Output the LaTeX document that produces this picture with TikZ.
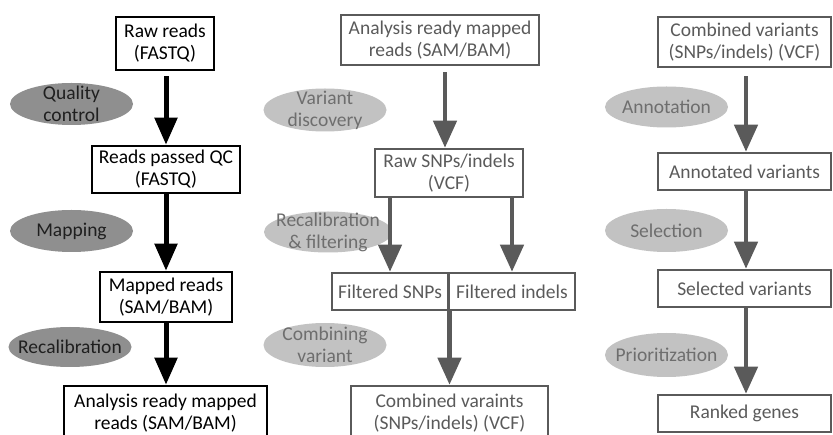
\documentclass[tikz,border=0pt]{standalone}
\usepackage{fontspec}
\setmainfont{Carlito}
\usetikzlibrary{shapes.geometric,arrows.meta}
\definecolor{dgray}{HTML}{5A5A5A}
\definecolor{egrayA}{HTML}{8F8F8F}
\definecolor{egrayB}{HTML}{C2C2C2}
\definecolor{etextB}{HTML}{6E6E6E}
\begin{document}
\begin{tikzpicture}[x=1pt,y=-1pt,
  every node/.style={font=\fontsize{19.5}{22}\selectfont, inner sep=0pt, align=center},
  boxA/.style={draw=black, line width=2.5pt, text=black, rectangle},
  boxB/.style={draw=dgray, line width=2.5pt, text=dgray, rectangle},
  ellA/.style={ellipse, fill=egrayA, minimum width=123pt, minimum height=42pt},
  ellB/.style={ellipse, fill=egrayB, minimum width=123pt, minimum height=43pt},
  tA/.style={text=black!88},
  tB/.style={text=etextB},
  arrA/.style={draw=black, line width=5pt, -{Triangle[length=27pt,width=22pt]}},
  arrB/.style={draw=dgray, line width=4.5pt, -{Triangle[length=27pt,width=23pt]}},
]
\useasboundingbox (0,0) rectangle (833,435);

% ---------- column 1 ----------
\node[boxA, minimum width=98pt, minimum height=53pt] (raw) at (165,43.5) {Raw reads\\(FASTQ)};
\node[boxA, minimum width=148pt, minimum height=47pt] (qc) at (166,169.5) {Reads passed QC\\(FASTQ)};
\node[boxA, minimum width=132pt, minimum height=50pt] (mapped) at (166,297) {Mapped reads\\(SAM/BAM)};
\node[boxA, minimum width=203pt, minimum height=54pt] (ready) at (165.5,413) {Analysis ready mapped\\reads (SAM/BAM)};

\node[ellA] (eqc) at (71.5,104) {};
\node[tA] at (eqc.center) {Quality\\control};
\node[ellA] (emap) at (71.5,231) {};
\node[tA] at (emap.center) {Mapping};
\node[ellA, minimum height=40pt] (erecal) at (70,347) {};
\node[tA] at (erecal.center) {Recalibration};

\draw[arrA, shorten <=5pt] (raw.south -| qc.north) -- (qc.north);
\draw[arrA] (qc.south) -- (mapped.north);
\draw[arrA] (mapped.south) -- (ready.north -| mapped.south);

% ---------- column 2 ----------
\node[boxB, minimum width=198pt, minimum height=50pt] (ready2) at (440,40) {Analysis ready mapped\\reads (SAM/BAM)};
\node[boxB, minimum width=148pt, minimum height=48pt] (raw2) at (449,173) {Raw SNPs/indels\\(VCF)};
\node[boxB, minimum width=116pt, minimum height=37pt] (fsnp) at (390,291.5) {Filtered SNPs};
\node[boxB, minimum width=126pt, minimum height=37pt] (findel) at (512,291.5) {Filtered indels};
\node[boxB, minimum width=197pt, minimum height=54pt] (comb2) at (449.5,413) {Combined varaints\\(SNPs/indels) (VCF)};

\node[ellB] (evd) at (325,110) {};
\node[tB] at (evd.center) {Variant\\discovery};
\node[ellB, minimum width=128pt, minimum height=41pt] (erf) at (328,232) {};
\node[tB] at (erf.center) {Recalibration\\\&\ filtering};
\node[ellB, minimum height=44pt] (ecv) at (325,345) {};
\node[tB] at (ecv.center) {Combining\\variant};

\draw[arrB, shorten <=6pt] ([xshift=5pt]ready2.south) -- ([xshift=-4pt]raw2.north);
\draw[arrB] (raw2.south -| fsnp.north) -- (fsnp.north);
\draw[arrB] (raw2.south -| findel.north) -- (findel.north);
\draw[arrB] (fsnp.south east -| comb2.north) -- (comb2.north);

% ---------- column 3 ----------
\node[boxB, minimum width=173pt, minimum height=50pt] (comb3) at (744.5,42) {Combined variants\\(SNPs/indels) (VCF)};
\node[boxB, minimum width=173pt, minimum height=37pt] (annv) at (744.5,171.5) {Annotated variants};
\node[boxB, minimum width=173pt, minimum height=37pt] (selv) at (744.5,288.5) {Selected variants};
\node[boxB, minimum width=173pt, minimum height=37pt] (rank) at (744.5,413.5) {Ranked genes};

\node[ellB, minimum height=41pt] (eann) at (666.5,107) {};
\node[tB] at (eann.center) {Annotation};
\node[ellB] (esel) at (666.5,230.5) {};
\node[tB] at (esel.center) {Selection};
\node[ellB, minimum height=44pt] (epri) at (666.5,355) {};
\node[tB] at (epri.center) {Prioritization};

\draw[arrB, shorten <=8pt] ([xshift=1.5pt]comb3.south) -- ([xshift=1.5pt]annv.north);
\draw[arrB] ([xshift=1.5pt]annv.south) -- ([xshift=1.5pt]selv.north);
\draw[arrB] ([xshift=1.5pt]selv.south) -- ([xshift=1.5pt]rank.north);
\end{tikzpicture}
\end{document}
